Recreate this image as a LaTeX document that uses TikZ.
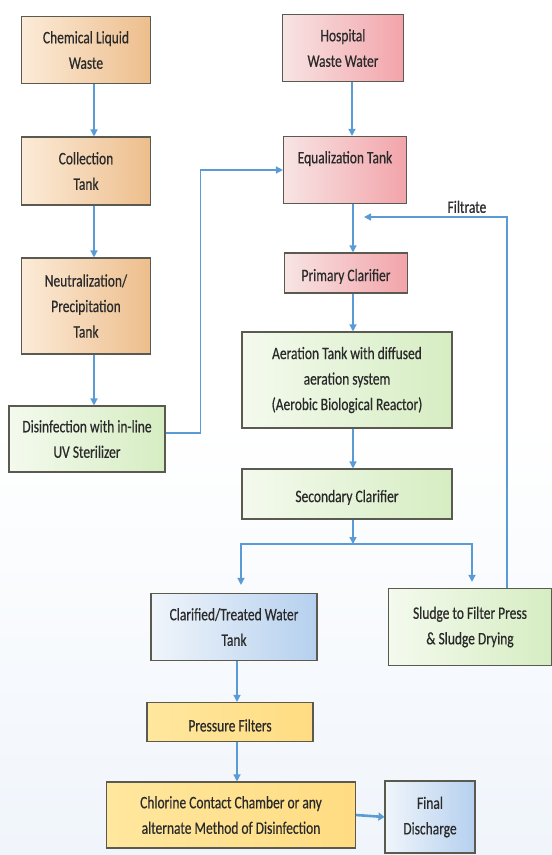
\documentclass[tikz,border=0pt]{standalone}
\usepackage{fontspec}
\setmainfont{Carlito}[FakeStretch=0.77,FakeBold=0.5]
\usetikzlibrary{arrows.meta}

\definecolor{flowblue}{HTML}{5B9BD5}
\definecolor{boxline}{HTML}{5A5A50}
\definecolor{txt}{HTML}{2A2A2A}
\definecolor{orgA}{HTML}{FCEBD8}
\definecolor{orgB}{HTML}{EDBE8C}
\definecolor{pnkA}{HTML}{F8E4E4}
\definecolor{pnkB}{HTML}{F2A4AA}
\definecolor{grnA}{HTML}{F4FAEE}
\definecolor{grnB}{HTML}{D6EDC2}
\definecolor{bluA}{HTML}{F0F5FB}
\definecolor{bluB}{HTML}{B5D0EE}
\definecolor{ylwA}{HTML}{FFE79E}
\definecolor{ylwB}{HTML}{FFDC82}

\begin{document}
\begin{tikzpicture}[x=1pt,y=-1pt,
  box/.style={draw=boxline,line width=1.1pt,inner sep=0pt,align=center,
    text=txt,font=\fontsize{17.5}{25.5}\selectfont,
    execute at begin node={\rule{0pt}{19pt}}},
  orangebox/.style={box,left color=orgA,right color=orgB},
  pinkbox/.style={box,left color=pnkA,right color=pnkB},
  greenbox/.style={box,left color=grnA,right color=grnB},
  bluebox/.style={box,left color=bluA,right color=bluB},
  yellowbox/.style={box,left color=ylwA,right color=ylwB},
  flow/.style={draw=flowblue,line width=1.4pt,-{Triangle[width=7pt,length=7pt]}}]
\useasboundingbox (0,0) rectangle (552,855);
\fill[top color=white,bottom color=bluA] (0,420) rectangle (552,855);

% left column
\node (chem) at (86,50) [orangebox,minimum width=129pt,minimum height=67pt] {Chemical Liquid\\Waste};
\node (coll) at (86,171) [orangebox,minimum width=129pt,minimum height=68pt] {Collection\\Tank};
\node (neut) at (86,306) [orangebox,minimum width=129pt,minimum height=96pt] {Neutralization/\\Precipitation\\Tank};
\node (dis) at (87,439) [greenbox,minimum width=156pt,minimum height=66pt] {Disinfection with in-line\\UV Sterilizer};

% right column
\node (hosp) at (343,48) [pinkbox,minimum width=121pt,minimum height=67pt] {Hospital\\Waste Water};
\node (eq) at (345,170) [pinkbox,minimum width=123pt,minimum height=67pt] {Equalization Tank\\ };
\node (prim) at (346,273) [pinkbox,minimum width=123pt,minimum height=40pt] {Primary Clarifier};
\node (aer) at (347,380) [greenbox,minimum width=210pt,minimum height=96pt] {Aeration Tank with diffused\\aeration system\\(Aerobic Biological Reactor)};
\node (sec) at (347,494) [greenbox,minimum width=210pt,minimum height=50pt] {Secondary Clarifier};

% bottom part
\node (clar) at (234,627) [bluebox,minimum width=166pt,minimum height=67pt] {Clarified/Treated Water\\Tank};
\node (sludge) at (470,627) [greenbox,minimum width=163pt,minimum height=77pt] {Sludge to Filter Press\\\& Sludge Drying};
\node (pres) at (230,722) [yellowbox,minimum width=166pt,minimum height=39pt] {Pressure Filters};
\node (chl) at (231,815) [yellowbox,minimum width=249pt,minimum height=66pt] {Chlorine Contact Chamber or any\\alternate Method of Disinfection};
\node (fin) at (430,817) [bluebox,minimum width=90pt,minimum height=72pt] {Final\\Discharge};

% connectors
\draw[flow] ([xshift=8pt]chem.south) -- ([xshift=8pt]coll.north);
\draw[flow] ([xshift=8pt]coll.south) -- ([xshift=8pt]neut.north);
\draw[flow] ([xshift=8pt]neut.south) -- ([xshift=7pt]dis.north);
\draw[flow] ([yshift=6pt]dis.east) -- ++(35,0) |- (eq.west);
\draw[flow] ([xshift=9pt]hosp.south) -- ([xshift=7pt]eq.north);
\draw[flow] ([xshift=8pt]eq.south) -- ([xshift=7pt]prim.north);
\draw[flow] ([xshift=7pt]prim.south) -- ([xshift=6pt]aer.north);
\draw[flow] ([xshift=6pt]aer.south) -- ([xshift=6pt]sec.north);

\coordinate (split) at (353,544);
\coordinate (filt) at (364,217);
\draw[flow] ([xshift=6pt]sec.south) -- (split);
\draw[flow,shorten >=8pt] (split) -| ([xshift=7pt]clar.north);
\draw[flow,shorten >=6pt] (split) -| ([xshift=2pt]sludge.north);
\draw[flow] ([xshift=37pt]sludge.north) |- (filt)
  node[pos=0.64,above=0pt,text=txt,font=\fontsize{17.5}{20}\selectfont] {Filtrate};

\draw[flow] ([xshift=3pt]clar.south) -- ([xshift=7pt]pres.north);
\draw[flow] ([xshift=7pt]pres.south) -- ([xshift=6pt]chl.north);
\draw[flow,line width=2.6pt,-{Triangle[width=8pt,length=6pt]}] (chl.east) -- (fin.west);

\end{tikzpicture}
\end{document}
